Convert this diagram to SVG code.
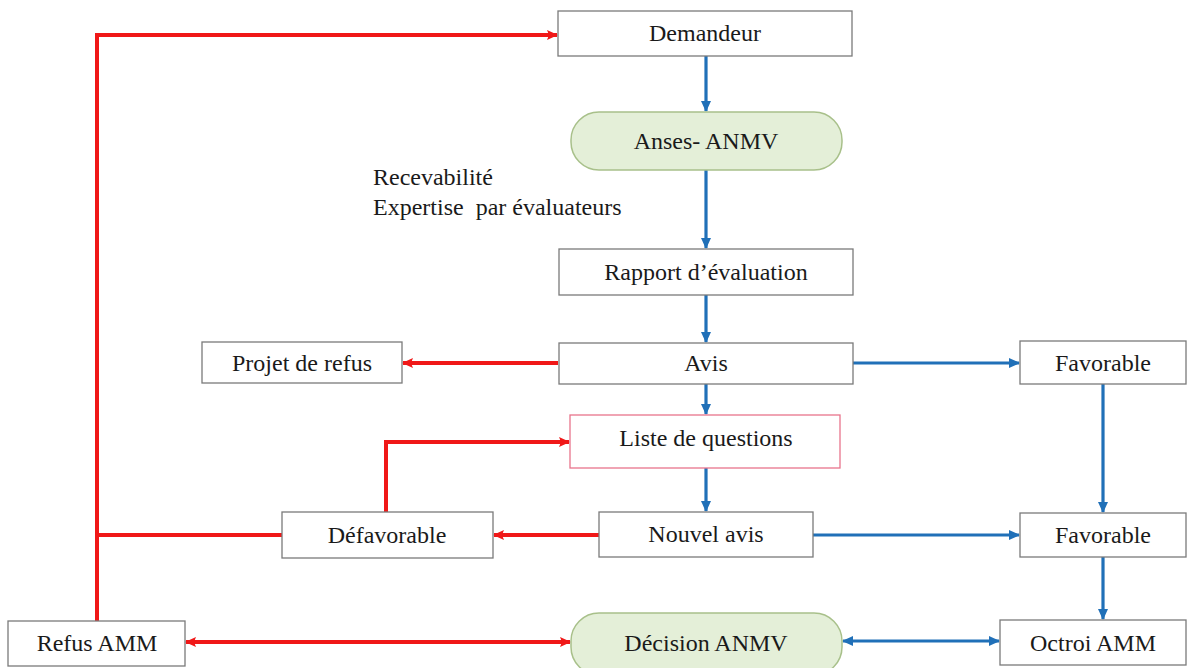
<svg xmlns="http://www.w3.org/2000/svg" width="1199" height="668" viewBox="0 0 1199 668">
<style>
.box{fill:#ffffff;stroke:#7a7a7a;stroke-width:1.3}
.pink{fill:#ffffff;stroke:#e8748c;stroke-width:1.3}
.green{fill:#e4efd8;stroke:#a8c08a;stroke-width:1.5}
.t{font-family:"Liberation Serif","Times New Roman",serif;font-size:24px;fill:#1a1a1a;text-anchor:middle}
.n{font-family:"Liberation Serif","Times New Roman",serif;font-size:24px;fill:#1a1a1a}
.blue{fill:none;stroke:#2070b8;stroke-width:3.2}
.red{fill:none;stroke:#f01818;stroke-width:4}
</style>
<defs>
<marker id="ab" markerUnits="userSpaceOnUse" markerWidth="12" markerHeight="12" refX="10" refY="5" orient="auto-start-reverse" viewBox="0 0 12 10">
<path d="M0,0 L11,5 L0,10 Z" fill="#2070b8"/>
</marker>
<marker id="ar" markerUnits="userSpaceOnUse" markerWidth="12" markerHeight="12" refX="10" refY="5" orient="auto-start-reverse" viewBox="0 0 12 10">
<path d="M0,0 L11,5 L0,10 L2,5 Z" fill="#f01818"/>
</marker>
</defs>
<rect width="1199" height="668" fill="#ffffff"/>
<g id="connectors">
<path class="blue" d="M706,56 V111" marker-end="url(#ab)"/>
<path class="blue" d="M706,170 V248" marker-end="url(#ab)"/>
<path class="blue" d="M706,295 V342" marker-end="url(#ab)"/>
<path class="blue" d="M706,384 V414" marker-end="url(#ab)"/>
<path class="blue" d="M706,468 V511" marker-end="url(#ab)"/>
<path class="blue" d="M852,363 H1019" marker-end="url(#ab)"/>
<path class="blue" d="M1103,384 V512" marker-end="url(#ab)"/>
<path class="blue" d="M813,535 H1019" marker-end="url(#ab)"/>
<path class="blue" d="M1103,557 V619" marker-end="url(#ab)"/>
<path class="blue" d="M843,641 H999" marker-start="url(#ab)" marker-end="url(#ab)"/>
<path class="red" d="M558,363 H403" marker-end="url(#ar)"/>
<path class="red" d="M599,535 H494" marker-end="url(#ar)"/>
<path class="red" d="M386,512 V442 H569" marker-end="url(#ar)"/>
<path class="red" d="M282,535 H97"/>
<path class="red" d="M97,621 V35 H557" marker-end="url(#ar)"/>
<path class="red" d="M186,642 H570" marker-start="url(#ar)" marker-end="url(#ar)"/>
</g>
<g id="demandeur"><rect class="box" x="558" y="11" width="294" height="45"/><text class="t" x="705" y="41">Demandeur</text></g>
<g id="anses"><rect class="green" x="571" y="112" width="271" height="58" rx="28"/><text class="t" x="706" y="149">Anses- ANMV</text></g>
<g id="note"><text class="n" x="373" y="185">Recevabilité</text><text class="n" x="373" y="215" xml:space="preserve">Expertise  par évaluateurs</text></g>
<g id="rapport"><rect class="box" x="559" y="249" width="294" height="46"/><text class="t" x="706" y="280">Rapport d’évaluation</text></g>
<g id="avis"><rect class="box" x="559" y="343" width="294" height="41"/><text class="t" x="706" y="371">Avis</text></g>
<g id="projet"><rect class="box" x="202" y="342" width="200" height="41"/><text class="t" x="302" y="371">Projet de refus</text></g>
<g id="favorable1"><rect class="box" x="1020" y="341" width="166" height="43"/><text class="t" x="1103" y="371">Favorable</text></g>
<g id="liste"><rect class="pink" x="570" y="415" width="270" height="53"/><text class="t" x="706" y="446">Liste de questions</text></g>
<g id="defavorable"><rect class="box" x="282" y="512" width="211" height="46"/><text class="t" x="387" y="543">Défavorable</text></g>
<g id="nouvel"><rect class="box" x="599" y="512" width="214" height="45"/><text class="t" x="706" y="542">Nouvel avis</text></g>
<g id="favorable2"><rect class="box" x="1020" y="513" width="166" height="44"/><text class="t" x="1103" y="543">Favorable</text></g>
<g id="refus"><rect class="box" x="8" y="621" width="177" height="45"/><text class="t" x="97" y="651">Refus AMM</text></g>
<g id="decision"><rect class="green" x="571" y="613" width="271" height="62" rx="28"/><text class="t" x="706" y="651">Décision ANMV</text></g>
<g id="octroi"><rect class="box" x="1000" y="620" width="186" height="45"/><text class="t" x="1093" y="651">Octroi AMM</text></g>
</svg>
